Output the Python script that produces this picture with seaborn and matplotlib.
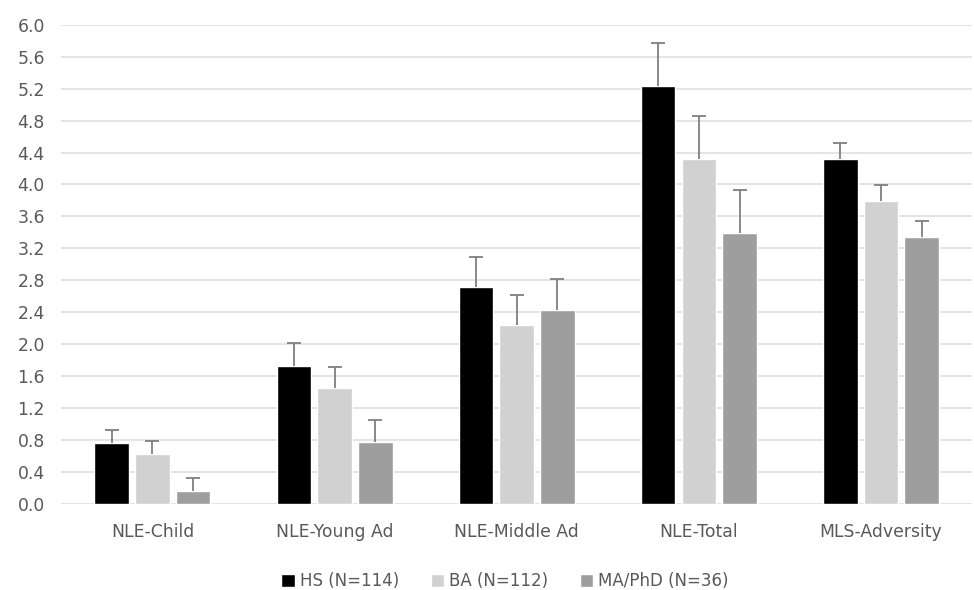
import numpy as np
import pandas as pd
import matplotlib
matplotlib.use("Agg")
import matplotlib.pyplot as plt
import seaborn as sns

# values
measures = ["NLE-Child", "NLE-Young Ad", "NLE-Middle Ad", "NLE-Total", "MLS-Adversity"]
groups = ["HS (N=114)", "BA (N=112)", "MA/PhD (N=36)"]
hs_mean = [0.76, 1.73, 2.71, 5.23, 4.32]
ba_mean = [0.62, 1.45, 2.24, 4.32, 3.79]
ma_mean = [0.16, 0.78, 2.43, 3.39, 3.34]
hs_err = [0.17, 0.28, 0.38, 0.54, 0.20]
ba_err = [0.17, 0.27, 0.38, 0.54, 0.20]
ma_err = [0.17, 0.27, 0.39, 0.54, 0.20]
colors = ["#000000", "#D0D1D0", "#9E9E9E"]
yticks = np.arange(0, 6.01, 0.4)

errs = [hs_err, ba_err, ma_err]

df = pd.DataFrame({
    "measure": measures * 3,
    "group": [g for g in groups for _ in measures],
    "mean": hs_mean + ba_mean + ma_mean,
})

sns.set_style("white")
plt.rcParams["font.family"] = ["DejaVu Sans"]

fig = plt.figure(figsize=(9.74, 5.9), dpi=100)
ax = fig.add_axes([0.063, 0.146, 0.935, 0.812])

sns.barplot(data=df, x="measure", y="mean", hue="group", order=measures,
            hue_order=groups, palette=colors, width=0.67, gap=0.15,
            errorbar=None, ax=ax, zorder=2)

# one-sided error bars (upward only), lower cap hidden
for cont, err in zip(ax.containers, errs):
    xs = [p.get_x() + p.get_width() / 2 for p in cont]
    ys = [p.get_height() for p in cont]
    _, caps, _ = ax.errorbar(xs, ys, yerr=[np.zeros(len(err)), err], fmt="none",
                             ecolor="#7F7F7F", elinewidth=1.3, capsize=5,
                             capthick=1.3, zorder=3)
    caps[0].set_visible(False)

ax.set_ylim(0, 6.0)
ax.set_xlim(-0.5, len(measures) - 0.5)
ax.set_yticks(yticks)
ax.set_yticklabels([f"{t:.1f}" for t in yticks])
ax.yaxis.grid(True, color="#DCDCDC", linewidth=1.1, zorder=0)
ax.set_axisbelow(True)
for s in ax.spines.values():
    s.set_visible(False)
ax.tick_params(axis="both", length=0, colors="#595959", labelsize=12.4)
ax.tick_params(axis="y", pad=12)
ax.tick_params(axis="x", pad=14)
ax.set_xlabel("")
ax.set_ylabel("")

handles, labels = ax.get_legend_handles_labels()
ax.legend(handles, labels, loc="center", bbox_to_anchor=(0.487, -0.162),
          ncol=3, frameon=False, fontsize=12, handlelength=0.8,
          handleheight=0.8, handletextpad=0.3, columnspacing=1.9,
          labelcolor="#595959")

fig.savefig("out.png", dpi=100)
